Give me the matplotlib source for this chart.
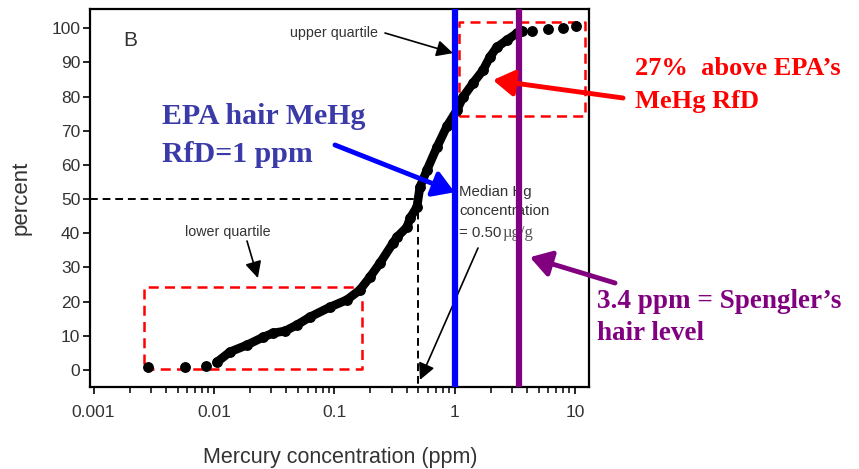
# Cumulative distribution of hair mercury, with EPA RfD and Spengler's level marked
import numpy as np
import matplotlib.pyplot as plt

# cumulative percent vs hair Hg (ppm)
hg_ppm = [0.00284, 0.00575, 0.0086, 0.0106, 0.0136, 0.0188, 0.0256, 0.031, 0.039,
          0.049, 0.0628, 0.092, 0.127, 0.163, 0.198, 0.240, 0.307, 0.332, 0.402,
          0.426, 0.486, 0.515, 0.589, 0.713, 0.863, 1.045, 1.172, 1.42, 1.72,
          1.96, 2.24, 2.72, 3.29, 3.62, 4.38, 5.96, 7.94, 10.2]
pct = [0.9, 1.0, 1.2, 2.3, 5.3, 7.3, 9.6, 10.8, 11.4,
       13.2, 15.5, 18.4, 20.5, 23.4, 27.2, 31.3, 37.1, 38.9, 41.8,
       44.4, 47.7, 53.5, 58.5, 65.2, 71.3, 76.0, 79.8, 83.9, 87.7,
       91.5, 94.4, 96.5, 98.5, 99.1, 99.1, 99.7, 99.9, 100.5]

epa_rfd = 1.0
spengler = 3.4
median_hg = 0.5

# dashed boxes (x0, x1, y0, y1)
lower_box = (0.00263, 0.170, 0.2, 24.4)
upper_box = (1.08, 12.1, 74.4, 101.8)

x_ticks = [0.001, 0.01, 0.1, 1, 10]
x_ticklabels = ['0.001', '0.01', '0.1', '1', '10']
y_ticks = list(range(0, 101, 10))

SANS = ['Liberation Sans', 'DejaVu Sans']
SERIF = ['Liberation Serif', 'DejaVu Serif']
GRAY = '#333333'
BLUE_TXT = '#3a3aa8'
PURPLE = '#800080'

W, H = 859, 469
fig = plt.figure(figsize=(W / 100, H / 100), dpi=100)
ax = fig.add_axes([90 / W, (H - 387) / H, 499 / W, 378 / H])


def fp(x, y):
    # figure pixel from top-left based pixel
    return (x, H - y)


ax.set_xscale('log')
ax.set_xlim(0.000935, 13.07)
ax.set_ylim(-4.97, 105.6)

# median guide lines
ax.plot([ax.get_xlim()[0], median_hg * 0.95], [50, 50], color='black', lw=1.4,
        ls=(0, (4, 2.5)), zorder=2)
ax.plot([median_hg, median_hg], [50, -4.97], color='black', lw=1.4,
        ls=(0, (4, 2.5)), zorder=2)

# dashed quartile boxes
for x0, x1, y0, y1 in (lower_box, upper_box):
    ax.plot([x0, x1, x1, x0, x0], [y0, y0, y1, y1, y0], color='red', lw=1.8,
            ls=(0, (4, 2.5)), zorder=2)

# data curve: dense part as thick line, all points as dots
ax.plot(hg_ppm[3:-4], pct[3:-4], color='black', lw=6.3, solid_capstyle='round',
        solid_joinstyle='round', zorder=3)
ax.plot(hg_ppm, pct, 'o', color='black', ms=6.8, zorder=3)

# reference lines
ax.axvline(epa_rfd, color='#0000ff', lw=4.5, zorder=4)
ax.axvline(spengler, color=PURPLE, lw=4.5, zorder=4)

ax.set_xticks(x_ticks)
ax.set_xticklabels(x_ticklabels)
ax.set_yticks(y_ticks)
for s in ax.spines.values():
    s.set_linewidth(1.6)
ax.tick_params(axis='both', which='major', length=5, width=1.2, labelsize=12.5,
               labelcolor=GRAY, direction='out')
ax.tick_params(axis='x', which='minor', length=4, width=1.1)
ax.tick_params(axis='x', pad=8)
ax.tick_params(axis='y', pad=2)
for lab in ax.get_xticklabels() + ax.get_yticklabels():
    lab.set_family(SANS)

fig.text(21 / W, (H - 198) / H, 'percent', rotation=90, ha='center', va='center',
         fontsize=16, color=GRAY, family=SANS)
fig.text(340 / W, (H - 463) / H, 'Mercury concentration (ppm)', ha='center',
         va='baseline', fontsize=15.5, color=GRAY, family=SANS)

# small gray annotations
thin_arrow = dict(arrowstyle='-|>,head_length=0.5,head_width=0.25',
                  mutation_scale=20, lw=1.2, color='black', shrinkA=0, shrinkB=0)
fig.text(130 / W, (H - 41) / H, 'B', ha='center', va='center', fontsize=15,
         color=GRAY, family=SANS)
fig.text(334 / W, (H - 33) / H, 'upper quartile', ha='center', va='center',
         fontsize=10.3, color=GRAY, family=SANS)
ax.annotate('', xy=(0.97, 92.7), xytext=fp(385, 33), textcoords='figure pixels',
            arrowprops=thin_arrow)
fig.text(228 / W, (H - 232) / H, 'lower quartile', ha='center', va='center',
         fontsize=10.3, color=GRAY, family=SANS)
ax.annotate('', xy=(0.0232, 26.9), xytext=fp(247, 241), textcoords='figure pixels',
            arrowprops=thin_arrow)

# median label sits under the vertical reference lines
med_kw = dict(transform=fig.transFigure, ha='left', va='center', fontsize=10.8,
              color=GRAY, family=SANS, zorder=3.5)
ax.text(459 / W, (H - 192) / H, 'Median Hg', **med_kw)
ax.text(459 / W, (H - 211) / H, 'concentration', **med_kw)
ax.text(459 / W, (H - 233) / H, '= 0.50', **med_kw)
ax.text(503 / W, (H - 233) / H, 'µg/g', transform=fig.transFigure, ha='left',
        va='center', fontsize=12, color='#555555', family=SERIF, zorder=3.5)
ax.annotate('', xy=(0.515, -2.9), xytext=fp(478, 248), textcoords='figure pixels',
            arrowprops=thin_arrow)

# coloured callouts
big_arrow = '-|>,head_length=0.45,head_width=0.28'
ax.annotate('', xy=(epa_rfd, 52), xytext=fp(335, 145), textcoords='figure pixels',
            arrowprops=dict(arrowstyle=big_arrow, mutation_scale=28, lw=3.5,
                            color='#0000ff', shrinkA=0, shrinkB=0), zorder=5)
ax.annotate('', xy=(2.08, 84.8), xytext=fp(623, 98), textcoords='figure pixels',
            arrowprops=dict(arrowstyle=big_arrow, mutation_scale=28, lw=3.5,
                            color='red', shrinkA=0, shrinkB=0), zorder=5,
            annotation_clip=False)
ax.annotate('', xy=(4.22, 33), xytext=fp(615, 283), textcoords='figure pixels',
            arrowprops=dict(arrowstyle=big_arrow, mutation_scale=28, lw=3.5,
                            color=PURPLE, shrinkA=0, shrinkB=0), zorder=5,
            annotation_clip=False)

fig.text(162 / W, (H - 124) / H, 'EPA hair MeHg', ha='left', va='baseline',
         fontsize=21.5, fontweight='bold', color=BLUE_TXT, family=SERIF)
fig.text(162 / W, (H - 162) / H, 'RfD=1 ppm', ha='left', va='baseline',
         fontsize=21.5, fontweight='bold', color=BLUE_TXT, family=SERIF)
fig.text(635 / W, (H - 75) / H, '27%  above EPA\u2019s', ha='left', va='baseline',
         fontsize=19, fontweight='bold', color='red', family=SERIF)
fig.text(635 / W, (H - 108) / H, 'MeHg RfD', ha='left', va='baseline',
         fontsize=19, fontweight='bold', color='red', family=SERIF)
fig.text(597 / W, (H - 308) / H, '3.4 ppm = Spengler\u2019s', ha='left',
         va='baseline', fontsize=19.5, fontweight='bold', color=PURPLE, family=SERIF)
fig.text(597 / W, (H - 340) / H, 'hair level', ha='left', va='baseline',
         fontsize=19.5, fontweight='bold', color=PURPLE, family=SERIF)

fig.savefig('out.png', dpi=100)
